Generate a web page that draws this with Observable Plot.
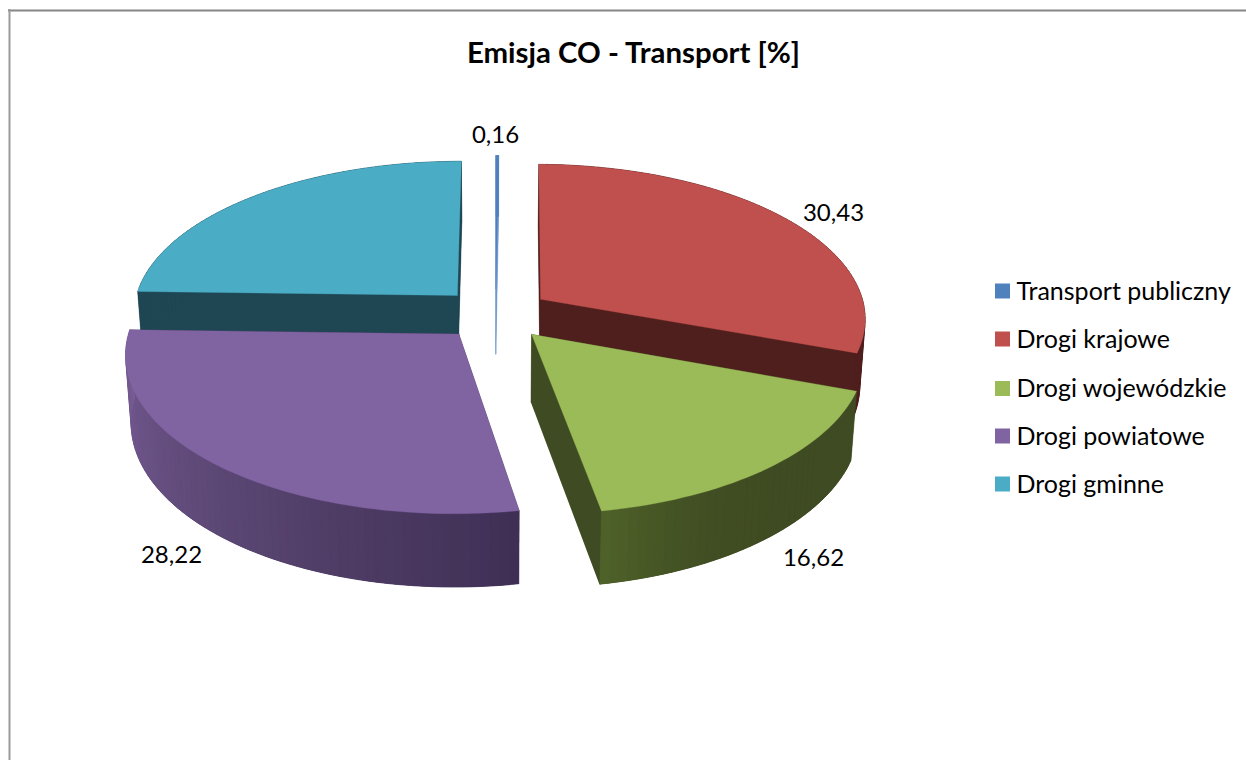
<!DOCTYPE html>
<html lang="pl">
<head>
<meta charset="utf-8">
<title>Emisja CO - Transport [%]</title>
<style>
html,body{margin:0;padding:0;background:#fff;}
svg{display:block;}
</style>
<script src="https://cdn.jsdelivr.net/npm/d3@7"></script>
<script src="https://cdn.jsdelivr.net/npm/@observablehq/plot@0.6"></script>
</head>
<body>
<div id="chart"></div>
<script>
// Data
const tytul = "Emisja CO - Transport [%]";
const kategorie = ["Transport publiczny","Drogi krajowe","Drogi wojewódzkie","Drogi powiatowe","Drogi gminne"];
const wartosci = [0.16,30.43,16.62,28.22,24.57];
const etykiety = ["0,16","30,43","16,62","28,22",""];
// Styles
const koloryGora = ["#4f81bd","#c0504d","#9bbb59","#8064a2","#4bacc6"];
const koloryCiecie = ["#6f9ad0","#4f1f1d","#3f4b22","#3f2f55","#1f4653"];
const koloryBok = [
  ["#4f81bd","#4f81bd"],
  ["#4f1f1d","#4f1f1d"],
  ["#3f4b22","#3f4b22","#3f4b22","#414e23","#4f6229"],
  ["#3f2f55","#4d3b63","#5c4875","#6a5286","#775c94"],
  ["#1f4653","#1f4653"]
];
const kolejnosc = [4,0,1,3,2];
const pozycjeEtykiet = [[495,135],[833,213],[813,558],[171,555],null];
const legendaY = [291,339,388.5,436,484];

// Pie camera (perspective of the tilted disc)
const cx = 495, cy = 313.5, S = 325.5, sinT = 0.4726, cosT = 0.881, D = 7.6, F = S * D;
const grubosc = 0.236, wybuch = 0.17;
const rzut = (X, Y, Z) => {
  const zc = D + Y * cosT - Z * sinT;
  return [cx + F * X / zc, cy - F * (Y * sinT + Z * cosT) / zc];
};

const suma = d3.sum(wartosci);
const polygons = [];
let nr = 0;
const dodaj = (pts, color) => {
  const id = nr++;
  for (const [x, y] of [...pts, pts[0]]) polygons.push({id, x, y, color});
};
let skum = 0;
const katy = wartosci.map(v => {
  const a0 = skum / suma * 2 * Math.PI;
  skum += v;
  return [a0, skum / suma * 2 * Math.PI];
});
for (const i of kolejnosc) {
  const [a0, a1] = katy[i];
  const mid = (a0 + a1) / 2;
  const ox = wybuch * Math.sin(mid), oy = wybuch * Math.cos(mid);
  const n = Math.max(2, Math.ceil((a1 - a0) / (Math.PI / 120)));
  const rim = d3.range(n + 1).map(k => {
    const a = a0 + (a1 - a0) * k / n;
    return [ox + Math.sin(a), oy + Math.cos(a)];
  });
  const g = ([X, Y]) => rzut(X, Y, 0);
  const d = ([X, Y]) => rzut(X, Y, -grubosc);
  const tip = [ox, oy];
  // bottom face
  dodaj([d(tip), ...rim.map(d)], koloryCiecie[i]);
  // cut faces
  dodaj([g(tip), g(rim[0]), d(rim[0]), d(tip)], koloryCiecie[i]);
  dodaj([g(tip), g(rim[n]), d(rim[n]), d(tip)], koloryCiecie[i]);
  // outer wall: overlapping strips so no seams show between them
  const kol = d3.interpolateRgbBasis(koloryBok[i]);
  for (let k = 0; k < n; k++) {
    const e = Math.min(n, k + 2);
    dodaj([g(rim[k]), g(rim[e]), d(rim[e]), d(rim[k])], kol((k + 0.5) / n));
  }
  // top face
  dodaj([g(tip), ...rim.map(g)], koloryGora[i]);
}

const etyk = etykiety.map((t, i) => ({t, p: pozycjeEtykiet[i]})).filter(d => d.p);
const font = "Lato, Carlito, sans-serif";

const plot = Plot.plot({
  width: 1246, height: 760,
  marginTop: 0, marginRight: 0, marginBottom: 0, marginLeft: 0,
  style: {background: "#fff", fontFamily: font},
  x: {domain: [0, 1246], range: [0, 1246], axis: null},
  y: {domain: [0, 760], range: [0, 760], axis: null},
  marks: [
    Plot.ruleY([10], {x1: 8, x2: 1246, stroke: "#868686", strokeWidth: 2}),
    Plot.ruleX([9], {y1: 9, y2: 760, stroke: "#9a9a9a", strokeWidth: 2}),
    Plot.line(polygons, {x: "x", y: "y", z: "id", fill: "color", stroke: "color", strokeWidth: 0.3, curve: "linear"}),
    Plot.text([tytul], {x: 633, y: 53, text: d => d, fontSize: 29.4, fontWeight: 700, fill: "#000", fontFamily: font}),
    Plot.text(etyk, {x: d => d.p[0], y: d => d.p[1], text: "t", fontSize: 24, fill: "#000", fontFamily: font}),
    Plot.rect(kategorie, {x1: 995, x2: 1010, y1: (d, i) => legendaY[i] - 7.5, y2: (d, i) => legendaY[i] + 7.5, fill: (d, i) => koloryGora[i]}),
    Plot.text(kategorie, {x: 1016, y: (d, i) => legendaY[i], text: d => d, textAnchor: "start", fontSize: 25, fill: "#000", fontFamily: font})
  ]
});
document.getElementById("chart").append(plot);
</script>
</body>
</html>
